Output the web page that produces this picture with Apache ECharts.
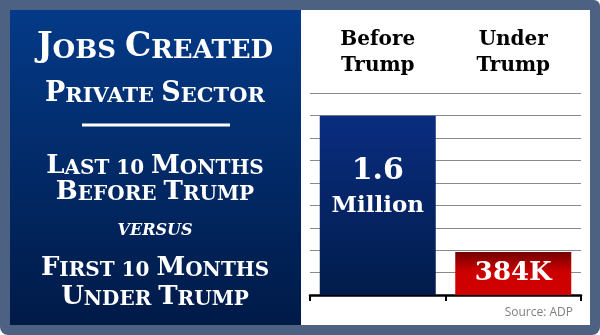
<!DOCTYPE html>
<html><head><meta charset="utf-8">
<script src="https://cdn.jsdelivr.net/npm/echarts@6/dist/echarts.min.js"></script>
<style>html,body{margin:0;padding:0;background:#fff}#c{width:600px;height:335px}</style>
</head><body><div id="c"></div>
<script>
// ---- data ----
const categories = ['Before\nTrump', 'Under\nTrump'];
const jobsThousands = [1600, 384];
const valueLabels = ['{a|1.6}\n{b|Million}', '384K'];
const yMin = 0, yMax = 1800, yInterval = 200;
const panelLines = ['Jobs Created', 'Private Sector', 'Last 10 Months', 'Before Trump', 'versus', 'First 10 Months', 'Under Trump'];
const sourceText = 'Source: ADP';

// ---- styling ----
const SERIF = 'DejaVu Serif';
const barGradients = [
  new echarts.graphic.LinearGradient(0, 0, 0, 1, [{offset: 0, color: '#0a2d80'}, {offset: 1, color: '#011c4b'}]),
  new echarts.graphic.LinearGradient(0, 0, 0, 1, [{offset: 0, color: '#740000'}, {offset: 0.45, color: '#cc0000'}, {offset: 1, color: '#d20000'}])
];
const barLabels = [
  {position: 'inside', offset: [0, -17], rich: {
    a: {fontFamily: SERIF, fontWeight: 'bold', fontSize: 30, lineHeight: 36, color: '#fff'},
    b: {fontFamily: SERIF, fontWeight: 'bold', fontSize: 23, lineHeight: 34, color: '#fff'}
  }},
  {position: 'inside', fontFamily: SERIF, fontWeight: 'bold', fontSize: 26, color: '#fff'}
];

function smallCaps(str) {
  return str.split(' ').map(w => {
    if (/^[A-Za-z]/.test(w)) {
      let s = '{B|' + w[0].toUpperCase() + '}';
      if (w.length > 1) s += '{S|' + w.slice(1).toUpperCase() + '}';
      return s;
    }
    return '{S|' + w.toUpperCase() + '}';
  }).join('{S| }');
}
function capsRich(fb, fs, italic) {
  const lh1 = fb + 8;
  const lh2 = lh1 - 0.692 * (fb - fs);
  const base = {fontFamily: SERIF, fontWeight: 'bold', fill: '#fff', color: '#fff', verticalAlign: 'bottom', fontStyle: italic ? 'italic' : 'normal'};
  return {
    B: Object.assign({}, base, {fontSize: fb, lineHeight: lh1}),
    S: Object.assign({}, base, {fontSize: fs, lineHeight: lh2})
  };
}
// [font big, font small, baseline]
const lineSpecs = [[33, 26, 55], [27, 21, 99], [26, 20, 171], [26, 20, 197], [16, 16, 232], [26, 20, 273], [26, 20, 302]];

const graphics = [
  {type: 'rect', z: -10, shape: {x: 0, y: 0, width: 600, height: 335, r: [0, 6, 8, 8]}, style: {fill: '#4d6283'}},
  {type: 'rect', z: -9, shape: {x: 10, y: 10, width: 291, height: 315}, style: {fill: new echarts.graphic.LinearGradient(0, 0, 0, 1, [{offset: 0, color: '#043a88'}, {offset: 1, color: '#001a47'}])}},
  {type: 'rect', z: -9, shape: {x: 301, y: 10, width: 289, height: 315}, style: {fill: '#ffffff'}},
  {type: 'line', z: 5, shape: {x1: 82, y1: 125, x2: 230, y2: 125}, style: {stroke: '#fff', lineWidth: 3}},
  {type: 'text', z: 5, x: 573, y: 313, style: {text: sourceText, fill: '#7f7f7f', font: '12px "Open Sans"', align: 'right', textAlign: 'right', verticalAlign: 'middle', textVerticalAlign: 'middle'}}
];
panelLines.forEach((t, i) => {
  const [fb, fs, bl] = lineSpecs[i];
  const italic = t === 'versus';
  graphics.push({type: 'text', z: 5, x: 155, y: bl - 0.346 * fb, style: {
    text: smallCaps(t), rich: capsRich(fb, fs, italic), fill: '#fff',
    align: 'center', textAlign: 'center', verticalAlign: 'middle', textVerticalAlign: 'middle'
  }});
});

const chart = echarts.init(document.getElementById('c'), null, {renderer: 'canvas'});
chart.setOption({
  animation: false,
  backgroundColor: 'transparent',
  grid: {left: 310, right: 19, top: 93.3, bottom: 40},
  xAxis: [
    {type: 'category', data: categories, position: 'bottom',
      axisLine: {show: true, lineStyle: {color: '#000', width: 2.5}},
      axisTick: {show: true, length: 6, lineStyle: {color: '#000', width: 2}},
      axisLabel: {show: false}, splitLine: {show: false}},
    {type: 'category', data: categories, position: 'top',
      axisLine: {show: false}, axisTick: {show: false},
      axisLabel: {show: true, margin: 15, fontFamily: SERIF, fontWeight: 'bold', fontSize: 20, lineHeight: 26, color: '#000'}}
  ],
  yAxis: {type: 'value', min: yMin, max: yMax, interval: yInterval,
    axisLine: {show: false}, axisTick: {show: false}, axisLabel: {show: false},
    splitLine: {show: true, lineStyle: {color: '#8a8a8a', width: 1}}},
  series: [{
    type: 'bar', xAxisIndex: 0, barWidth: 116,
    data: jobsThousands.map((v, i) => ({
      value: v, itemStyle: {color: barGradients[i]},
      label: Object.assign({show: true, formatter: valueLabels[i]}, barLabels[i])
    }))
  }],
  graphic: graphics
});
</script></body></html>
